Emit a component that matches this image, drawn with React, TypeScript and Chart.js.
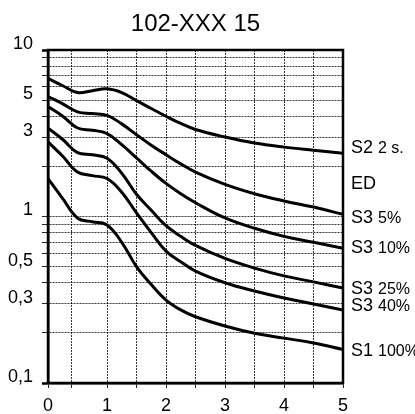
import React, { useEffect, useRef } from 'react';
import { Chart, registerables } from 'chart.js';

Chart.register(...registerables);

const FONT = "'Liberation Sans', Arial, Helvetica, sans-serif";

const titleText = '102-XXX 15';

const xValues = [0, 0.25, 0.5, 0.75, 1, 1.25, 1.5, 1.75, 2, 2.25, 2.5, 3, 3.5, 4, 4.5, 5];
const s2Values = [6.76, 6.1, 5.56, 5.7, 5.85, 5.55, 4.97, 4.45, 4.0, 3.62, 3.33, 3.0, 2.76, 2.61, 2.5, 2.4];
const s3p5Values = [5.25, 4.75, 4.25, 4.15, 4.05, 3.6, 3.1, 2.68, 2.35, 2.07, 1.85, 1.56, 1.37, 1.24, 1.14, 1.03];
const s3p10Values = [4.57, 4.0, 3.4, 3.3, 3.15, 2.7, 2.25, 1.87, 1.58, 1.37, 1.21, 0.98, 0.85, 0.76, 0.7, 0.645];
const s3p25Values = [3.39, 2.9, 2.42, 2.35, 2.24, 1.82, 1.36, 1.09, 0.88, 0.76, 0.67, 0.56, 0.49, 0.44, 0.405, 0.372];
const s3p40Values = [2.81, 2.3, 1.85, 1.76, 1.69, 1.4, 1.05, 0.8, 0.62, 0.535, 0.47, 0.4, 0.357, 0.324, 0.298, 0.274];
const s1p100Values = [1.69, 1.28, 0.98, 0.93, 0.89, 0.7, 0.5, 0.39, 0.315, 0.275, 0.25, 0.22, 0.199, 0.186, 0.174, 0.159];

const seriesNames = ['S2 2 s.', 'S3 5%', 'S3 10%', 'S3 25%', 'S3 40%', 'S1 100%'];
const seriesValues = [s2Values, s3p5Values, s3p10Values, s3p25Values, s3p40Values, s1p100Values];

const xGridValues = [0, 0.4, 1, 1.5, 2, 2.5, 3, 3.5, 4, 4.5, 5];
const xTickLabels = ['0', '', '1', '', '2', '', '3', '', '4', '', '5'];

const yGridValues = [0.1, 0.2, 0.3, 0.4, 0.5, 0.6, 0.7, 0.8, 0.9, 1, 2, 3, 4, 5, 6, 7, 8, 9, 10];
const yTickLabels = ['0,1', '', '0,3', '', '0,5', '', '', '', '', '1', '', '3', '', '5', '', '', '', '', '10'];

const sideLabelMain = ['S2', 'ED', 'S3', 'S3', 'S3', 'S3', 'S1'];
const sideLabelSub = ['2 s.', '', '5%', '10%', '25%', '40%', '100%'];
const sideLabelValues = [2.65, 1.59, 1.0, 0.656, 0.377, 0.298, 0.158];

const GRID_COLOR = 'rgba(0,0,0,0.78)';

const isYEnd = (c: any) => c.index === 0 || c.index === yGridValues.length - 1;

const framePlugin = {
  id: 'frame',
  afterDatasetsDraw(chart: any) {
    const { ctx, chartArea } = chart;
    ctx.save();
    ctx.strokeStyle = '#000';
    ctx.lineWidth = 2.5;
    ctx.strokeRect(chartArea.left, chartArea.top, chartArea.right - chartArea.left, chartArea.bottom - chartArea.top);
    ctx.restore();
  },
};

const sideLabelPlugin = {
  id: 'sideLabels',
  afterDraw(chart: any) {
    const { ctx, chartArea, scales } = chart;
    ctx.save();
    ctx.fillStyle = '#000';
    ctx.textAlign = 'left';
    ctx.textBaseline = 'alphabetic';
    sideLabelMain.forEach((main, i) => {
      const y = scales.y.getPixelForValue(sideLabelValues[i]) + 6.5;
      let x = chartArea.right + 8;
      ctx.font = `18px ${FONT}`;
      ctx.fillText(main, x, y);
      x += ctx.measureText(main + ' ').width;
      if (sideLabelSub[i]) {
        ctx.font = `16px ${FONT}`;
        ctx.fillText(sideLabelSub[i], x, y);
      }
    });
    ctx.restore();
  },
};

export default function App() {
  const canvasRef = useRef<HTMLCanvasElement | null>(null);

  useEffect(() => {
    if (!canvasRef.current) return;
    const chart = new Chart(canvasRef.current, {
      type: 'line',
      data: {
        datasets: seriesValues.map((vals, si) => ({
          label: seriesNames[si],
          data: xValues.map((x, i) => ({ x, y: vals[i] })),
          borderColor: '#000',
          borderWidth: 3,
          pointRadius: 0,
          tension: 0.4,
          fill: false,
        })),
      },
      options: {
        responsive: false,
        animation: false,
        events: [],
        layout: { padding: { left: 0, right: 72, top: 0, bottom: 0 } },
        plugins: {
          legend: { display: false },
          tooltip: { enabled: false },
          title: {
            display: true,
            text: titleText,
            fullSize: false,
            color: '#000',
            font: { family: FONT, size: 24, weight: 'normal' },
            padding: { top: 10, bottom: 11.2 },
          },
        },
        scales: {
          x: {
            type: 'linear',
            min: 0,
            max: 5,
            afterBuildTicks: (s: any) => {
              s.ticks = xGridValues.map((v) => ({ value: v }));
            },
            afterFit: (s: any) => {
              s.height = 31;
            },
            ticks: {
              autoSkip: false,
              maxRotation: 0,
              padding: 7,
              color: '#000',
              font: { family: FONT, size: 18 },
              callback: (_v: any, i: number) => xTickLabels[i],
            },
            grid: { color: GRID_COLOR, lineWidth: 1, tickLength: 5, tickColor: '#222' },
            border: { display: true, color: '#000', width: 2.5, dash: [2, 1] },
          },
          y: {
            type: 'logarithmic',
            min: 0.1,
            max: 10,
            afterBuildTicks: (s: any) => {
              s.ticks = yGridValues.map((v) => ({ value: v }));
            },
            afterFit: (s: any) => {
              s.width = 48;
            },
            ticks: {
              autoSkip: false,
              padding: 9,
              labelOffset: -6,
              color: '#000',
              font: { family: FONT, size: 18 },
              callback: (_v: any, i: number) => yTickLabels[i],
            },
            grid: {
              color: GRID_COLOR,
              lineWidth: 1,
              tickLength: 6,
              tickColor: (c: any) => (isYEnd(c) ? '#000' : '#222'),
              tickWidth: (c: any) => (isYEnd(c) ? 2.5 : 1),
            },
            border: { display: true, color: '#000', width: 2.5, dash: [2, 1] },
          },
        },
      },
      plugins: [framePlugin, sideLabelPlugin],
    } as any);
    return () => chart.destroy();
  }, []);

  return (
    <div style={{ position: 'fixed', left: 0, top: 0, width: 415, height: 414, background: '#fff' }}>
      <canvas ref={canvasRef} width={415} height={414} style={{ display: 'block' }} />
    </div>
  );
}
